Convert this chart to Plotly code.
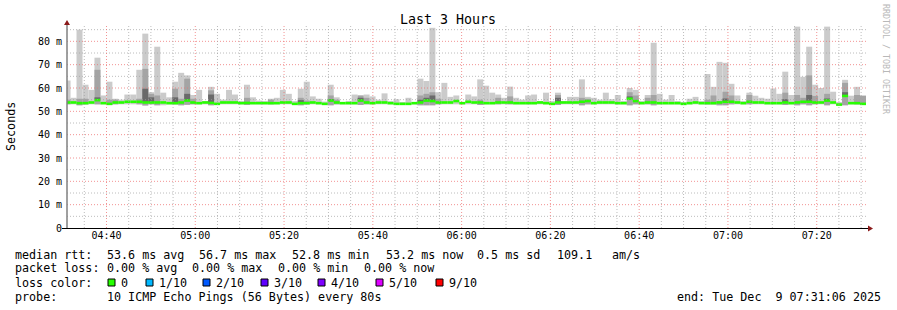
import numpy as np
import plotly.graph_objects as go
from datetime import datetime, timedelta

# ---------------- data (seconds shown in ms) ----------------
title_text = "Last 3 Hours"
start_time = datetime(2025, 12, 9, 4, 31, 6)
end_time = datetime(2025, 12, 9, 7, 31, 6)

ping_max = [
    63.2, 55.8, 85.0, 61.4, 59.2, 73.0, 56.8, 62.7, 55.4, 55.0,
    57.2, 57.2, 67.8, 83.3, 58.2, 77.7, 58.0, 56.0, 62.7, 66.5,
    65.4, 57.0, 59.2, 54.4, 60.5, 57.5, 55.0, 59.2, 57.2, 54.4,
    61.4, 56.0, 54.6, 54.4,
    55.4, 55.8, 59.2, 57.5, 54.4, 59.7, 62.7, 56.4, 55.4, 54.2,
    61.4, 56.0, 54.0, 54.4, 57.2, 56.8, 57.2, 56.4, 55.0, 57.7,
    54.4, 55.2, 54.0, 55.8, 54.0, 64.0, 63.0, 85.8, 58.2, 62.2,
    56.2, 56.8, 54.0, 57.2,
    56.4, 63.7, 61.0, 58.0, 57.2, 55.8, 60.6, 55.8, 55.0, 56.8,
    57.2, 54.4, 58.0, 54.4, 58.0, 54.4, 56.2, 56.2, 63.7, 56.2,
    55.8, 55.0, 58.0, 55.2, 57.0, 54.4, 60.0, 59.2, 54.4, 57.0,
    79.4, 57.5, 55.0,
    57.0, 54.4, 54.0, 55.4, 56.2, 54.4, 66.0, 60.5, 71.2, 70.8,
    61.8, 56.8, 54.4, 58.0, 56.7, 55.8, 55.4, 59.8, 57.5, 67.0,
    57.0, 86.3, 64.8, 77.7, 61.4, 60.0, 86.3, 58.4, 54.0, 63.5,
    56.7, 60.5, 56.7,
]

N_ = None
ping_mid = [
    55.0, N_, 55.4, 55.4, N_, 67.8, N_, 55.0, 55.0, N_,
    N_, N_, 55.4, 68.2, 57.5, 56.8, N_, N_, 59.7, 55.4,
    64.0, 55.4, N_, N_, 59.0, N_, N_, N_, N_, N_,
    55.8, N_, N_, N_,
    55.0, N_, N_, N_, N_, 55.8, 54.6, N_, N_, N_,
    56.8, 55.0, N_, N_, N_, 56.8, 55.8, N_, N_, N_,
    N_, N_, N_, N_, N_, 56.8, 57.5, 58.2, 55.4, N_,
    N_, N_, N_, N_,
    N_, 55.0, N_, N_, 55.8, N_, 56.4, N_, N_, N_,
    N_, N_, N_, N_, 57.0, N_, N_, N_, 55.8, 55.4,
    N_, N_, N_, N_, N_, N_, 58.2, 56.8, N_, 55.8,
    57.0, N_, N_,
    N_, N_, N_, N_, N_, N_, 55.0, 56.8, 54.4, 58.4,
    56.8, N_, N_, 57.0, N_, N_, N_, N_, N_, 58.0,
    N_, 57.0, 55.8, 65.4, 56.6, N_, 57.5, N_, N_, 62.2,
    N_, 57.0, 56.7,
]

ping_dark = [
    N_, N_, N_, N_, N_, 56.0, N_, N_, N_, N_,
    N_, N_, N_, 59.7, 56.0, N_, N_, N_, 56.0, N_,
    57.5, N_, N_, N_, 57.2, N_, N_, N_, N_, N_,
    N_, N_, N_, N_,
    N_, N_, N_, N_, N_, 54.8, N_, N_, N_, N_,
    55.0, N_, N_, N_, N_, 55.8, N_, N_, N_, N_,
    N_, N_, N_, N_, N_, 55.0, 55.8, 56.8, N_, N_,
    N_, N_, N_, N_,
    N_, N_, N_, N_, N_, N_, N_, N_, N_, N_,
    N_, N_, N_, N_, 55.8, N_, N_, N_, N_, N_,
    N_, N_, N_, N_, N_, N_, 56.4, N_, N_, N_,
    N_, N_, N_,
    N_, N_, N_, N_, N_, N_, N_, N_, N_, 55.5,
    N_, N_, N_, N_, N_, N_, N_, N_, N_, 55.2,
    N_, N_, N_, 57.0, N_, N_, 55.5, N_, N_, 58.2,
    N_, N_, N_,
]

median_rtt = [
    53.8, 53.8, 53.5, 53.5, 53.8, 54.8, 53.5, 53.2, 53.8, 53.8,
    54.1, 54.1, 54.1, 53.8, 53.8, 53.8, 53.8, 53.5, 53.5, 53.8,
    54.6, 53.8, 53.5, 53.8, 53.6, 53.2, 53.8, 53.8, 53.8, 53.5,
    53.6, 53.5, 53.5, 53.5,
    53.5, 53.5, 53.8, 53.8, 53.2, 53.5, 53.5, 53.8, 53.5, 53.2,
    54.6, 53.8, 53.5, 53.5, 53.5, 54.6, 53.8, 53.5, 53.8, 53.8,
    53.5, 53.2, 53.2, 53.2, 53.5, 53.8, 54.6, 54.4, 53.8, 53.8,
    53.8, 54.4, 53.5, 54.1,
    53.8, 53.8, 53.5, 53.5, 53.8, 53.8, 53.8, 53.5, 53.5, 53.5,
    53.5, 53.8, 53.5, 53.2, 53.8, 53.8, 53.8, 53.8, 54.1, 54.4,
    53.5, 53.8, 53.8, 53.8, 53.5, 53.5, 55.4, 54.4, 53.5, 53.8,
    53.8, 53.5, 53.5,
    53.5, 53.5, 53.2, 53.5, 53.8, 53.5, 53.5, 53.5, 53.8, 54.1,
    54.1, 53.8, 53.5, 54.1, 53.8, 53.8, 53.5, 53.5, 53.5, 53.8,
    53.5, 53.8, 54.1, 54.1, 53.8, 53.8, 54.6, 53.8, 52.9, 56.6,
    53.5, 53.5, 53.2,
]

ping_min = [
    53.0, 53.0, 52.6, 53.0, 53.0, 53.0, 53.0, 52.7, 53.0, 53.0,
    53.0, 53.0, 53.0, 52.5, 53.0, 52.6, 52.6, 53.0, 53.0, 52.6,
    52.8, 53.0, 53.0, 53.0, 52.6, 52.8, 53.0, 53.0, 53.0, 53.0,
    52.7, 53.0, 53.0, 53.0,
    53.0, 53.0, 53.0, 53.0, 52.8, 52.6, 53.0, 53.0, 53.0, 52.8,
    52.6, 53.0, 53.0, 53.0, 53.0, 52.7, 53.0, 53.0, 53.0, 53.0,
    53.0, 52.8, 52.8, 52.8, 53.0, 52.6, 52.6, 52.6, 53.0, 53.0,
    53.0, 53.0, 53.0, 53.0,
    53.0, 52.7, 53.0, 53.0, 53.0, 53.0, 53.0, 53.0, 53.0, 53.0,
    53.0, 53.0, 53.0, 52.8, 52.7, 53.0, 53.0, 53.0, 52.6, 53.0,
    53.0, 53.0, 53.0, 53.0, 53.0, 53.0, 52.6, 53.0, 53.0, 53.0,
    52.6, 53.0, 53.0,
    53.0, 53.0, 52.8, 53.0, 53.0, 53.0, 53.0, 53.0, 52.6, 52.6,
    53.0, 53.0, 53.0, 53.0, 53.0, 53.0, 53.0, 53.0, 53.0, 52.7,
    53.0, 52.6, 53.0, 52.6, 53.0, 53.0, 52.6, 53.0, 52.4, 52.6,
    53.0, 53.0, 52.8,
]

y_tick_vals = [0, 10, 20, 30, 40, 50, 60, 70, 80]
y_tick_text = ["0", "10 m", "20 m", "30 m", "40 m", "50 m", "60 m", "70 m", "80 m"]
y_max = 87

legend_median = ["median rtt:", "53.6 ms avg", "56.7 ms max", "52.8 ms min", "53.2 ms now", "0.5 ms sd", "109.1", "am/s"]
legend_loss = ["packet loss:", "0.00 % avg", "0.00 % max", "0.00 % min", "0.00 % now"]
loss_labels = ["0", "1/10", "2/10", "3/10", "4/10", "5/10", "9/10"]
loss_colors = ["#26ff00", "#00b8ff", "#0059ff", "#5e00ff", "#7e00ff", "#dd00ff", "#ff0000"]
probe_text = "10 ICMP Echo Pings (56 Bytes) every 80s"
end_text = "end: Tue Dec  9 07:31:06 2025"

# ---------------- layout geometry ----------------
W, H = 897, 310
ML, MR, MT, MB = 67, 31, 25, 82
PW = W - ML - MR
PH = H - MT - MB
MONO = "DejaVu Sans Mono"


def px(x):
    return (x - ML) / PW


def py(y):
    return (H - MB - y) / PH


arr = lambda a: np.array([np.nan if v is None else v for v in a], dtype=float)
mx, md, dk, med, mn = map(arr, (ping_max, ping_mid, ping_dark, median_rtt, ping_min))
n = len(mx)
lead = 33.0
step_s = ((end_time - start_time).total_seconds() + lead) / n
centers = [start_time - timedelta(seconds=lead) + timedelta(seconds=step_s * (k + 0.5)) for k in range(n)]
wms = step_s * 1000.0

fig = go.Figure()
fig.add_trace(go.Bar(x=centers, base=mn, y=mx - mn, width=wms,
                     marker=dict(color="#cbcbcb", line=dict(width=0)), hoverinfo="skip"))
fig.add_trace(go.Bar(x=centers, base=mn, y=md - mn, width=wms,
                     marker=dict(color="#a4a4a4", line=dict(width=0)), hoverinfo="skip"))
fig.add_trace(go.Bar(x=centers, base=med, y=dk - med, width=wms,
                     marker=dict(color="#6a6a6a", line=dict(width=0)), hoverinfo="skip"))
fig.add_trace(go.Bar(x=centers, base=med - 0.55, y=np.full(n, 1.1), width=wms,
                     marker=dict(color=loss_colors[0], line=dict(width=0)), hoverinfo="skip"))

shapes = []
# grid (drawn above the smoke, as rrdtool does)
for v in range(5, y_max, 5):
    major = v % 10 == 0
    shapes.append(dict(type="line", xref="paper", yref="y", x0=0, x1=1, y0=v, y1=v, layer="above",
                       line=dict(color="rgba(238,110,110,0.75)" if major else "rgba(160,160,160,0.7)",
                                 width=1, dash="1px,2px")))
t = datetime(2025, 12, 9, 4, 35)
x_tick_vals, x_tick_text = [], []
while t < end_time:
    major = t.minute % 20 == 0
    shapes.append(dict(type="line", xref="x", yref="paper", x0=t, x1=t, y0=0, y1=1, layer="above",
                       line=dict(color="rgba(238,110,110,0.75)" if major else "rgba(160,160,160,0.7)",
                                 width=1, dash="1px,2px")))
    if major:
        x_tick_vals.append(t)
        x_tick_text.append(t.strftime("%H:%M"))
    t += timedelta(minutes=5)

# axes with arrows
shapes.append(dict(type="line", xref="paper", yref="paper", x0=px(67), x1=px(67), y0=py(228.5), y1=py(22),
                   layer="above", line=dict(color="#808080", width=1.5)))
shapes.append(dict(type="line", xref="paper", yref="paper", x0=px(62), x1=px(869), y0=py(228.5), y1=py(228.5),
                   layer="above", line=dict(color="#000000", width=1.2)))
shapes.append(dict(type="path", xref="paper", yref="paper", layer="above",
                   path=f"M {px(64)} {py(25)} L {px(70)} {py(25)} L {px(67)} {py(20)} Z",
                   fillcolor="#8b1a1a", line=dict(width=0)))
shapes.append(dict(type="path", xref="paper", yref="paper", layer="above",
                   path=f"M {px(868)} {py(225.5)} L {px(868)} {py(231.5)} L {px(873)} {py(228.5)} Z",
                   fillcolor="#8b1a1a", line=dict(width=0)))

annotations = []


def txt(x, y, s, size=11.7, anchor="left", color="#000000"):
    annotations.append(dict(xref="paper", yref="paper", x=px(x), y=py(y), text=s.replace(" ", "\u00a0"),
                            showarrow=False, xanchor=anchor, yanchor="middle", borderpad=0, borderwidth=0,
                            font=dict(family=MONO, size=size, color=color)))


# legend line 1
for s, x in zip(legend_median, [15.5, 106.5, 199, 292, 385.5, 477, 557, 612]):
    txt(x, 254.5, s)
for s, x in zip(legend_loss, [15.5, 106.5, 192, 278, 364]):
    txt(x, 268.3, s)
txt(15.5, 282.5, "loss color:")
for lab, col, x in zip(loss_labels, loss_colors, [108, 146, 203, 261, 318, 376, 436]):
    shapes.append(dict(type="rect", xref="paper", yref="paper", x0=px(x), x1=px(x + 7),
                       y0=py(286), y1=py(279), fillcolor=col, line=dict(color="#000000", width=1)))
    txt(x + 13, 282.5, lab)
txt(15.5, 296.5, "probe:")
txt(106.5, 296.5, probe_text)
txt(881, 296.5, end_text, anchor="right")

# title, axis title, watermark
txt(448, 19, title_text, size=13.3, anchor="center")
annotations.append(dict(xref="paper", yref="paper", x=px(11), y=py(127), text="Seconds", textangle=-90,
                        showarrow=False, xanchor="center", yanchor="middle",
                        font=dict(family=MONO, size=11.7, color="#000000")))
annotations.append(dict(xref="paper", yref="paper", x=px(886), y=py(59), text="RRDTOOL / TOBI OETIKER",
                        textangle=90, showarrow=False, xanchor="center", yanchor="middle",
                        font=dict(family=MONO, size=8.3, color="#b8b8b8")))

fig.update_layout(
    width=W, height=H, margin=dict(l=ML, r=MR, t=MT, b=MB),
    paper_bgcolor="#ffffff", plot_bgcolor="#ffffff",
    barmode="overlay", showlegend=False,
    shapes=shapes, annotations=annotations,
    xaxis=dict(type="date", range=[start_time, end_time], showgrid=False, zeroline=False, showline=False,
               tickvals=x_tick_vals, ticktext=x_tick_text, ticks="", tickfont=dict(family=MONO, size=10, color="#000"),
               fixedrange=True),
    yaxis=dict(range=[0, y_max], showgrid=False, zeroline=False, showline=False,
               tickvals=y_tick_vals, ticktext=y_tick_text, ticks="", ticklen=0, ticklabelstandoff=4,
               tickfont=dict(family=MONO, size=10, color="#000"), fixedrange=True),
)

fig.write_html("out.html")
